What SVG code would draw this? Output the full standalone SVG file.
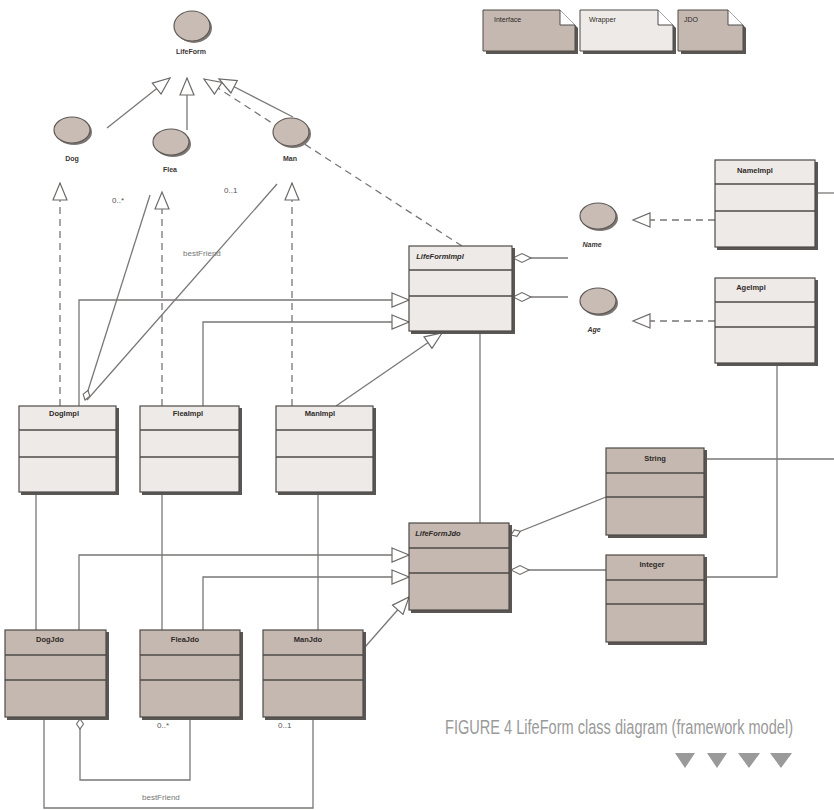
<svg xmlns="http://www.w3.org/2000/svg" width="834" height="810" viewBox="0 0 834 810">
  <style>
    .bg { fill: #ffffff; }
    .conn { fill: none; stroke: #7a7776; stroke-width: 1.3; }
    .dash { stroke-dasharray: 7 5; }
    .iface { fill: #c8bcb4; stroke: #5e5a58; stroke-width: 1.2; }
    .ishadow { fill: #7d7672; }
    .lbl { font-family: "Liberation Sans", Arial, sans-serif; font-size: 7px; font-weight: bold; fill: #3a3634; text-anchor: middle; }
    .ital { font-style: italic; }
    .box-w { fill: #eeeae7; stroke: #4e4a48; stroke-width: 1.2; }
    .box-j { fill: #c4b8b0; stroke: #4e4a48; stroke-width: 1.2; }
    .shadow { fill: #5a5654; }
    .sep { stroke: #4e4a48; stroke-width: 1.4; }
    .title { font-family: "Liberation Sans", Arial, sans-serif; font-size: 7.5px; font-weight: bold; fill: #2e2a28; text-anchor: middle; }
    .note { font-family: "Liberation Sans", Arial, sans-serif; font-size: 7px; fill: #2e2a28; }
    .mult { font-family: "Liberation Sans", Arial, sans-serif; font-size: 8px; fill: #555; }
    .role { font-family: "Liberation Sans", Arial, sans-serif; font-size: 8px; fill: #777; }
    .cap { font-family: "Liberation Sans", Arial, sans-serif; font-size: 15px; fill: #9a9a9a; }
    .tri { fill: #9a9a9a; }
  </style>
  <defs>
    <marker id="gen" markerUnits="userSpaceOnUse" markerWidth="20" markerHeight="16" viewBox="0 0 20 16" refX="18" refY="8" orient="auto">
      <path d="M1,1 L18,8 L1,15 Z" fill="#ffffff" stroke="#6e6a68" stroke-width="1.2"/>
    </marker>
    <marker id="agg" markerUnits="userSpaceOnUse" markerWidth="22" markerHeight="12" viewBox="0 0 22 12" refX="1" refY="6" orient="auto">
      <path d="M1,6 L10,1.5 L19,6 L10,10.5 Z" fill="#ffffff" stroke="#6e6a68" stroke-width="1.1"/>
    </marker>
    <marker id="aggs" markerUnits="userSpaceOnUse" markerWidth="14" markerHeight="10" viewBox="0 0 14 10" refX="1" refY="5" orient="auto">
      <path d="M1,5 L6,1.5 L11,5 L6,8.5 Z" fill="#ffffff" stroke="#6e6a68" stroke-width="1.1"/>
    </marker>
  </defs>

  <rect class="bg" x="0" y="0" width="834" height="810"/>

  <!-- connectors -->
  <g id="connectors">
    <!-- generalisation to LifeForm -->
    <line class="conn" x1="107" y1="128" x2="170" y2="78" marker-end="url(#gen)"/>
    <line class="conn" x1="187" y1="130" x2="187" y2="78" marker-end="url(#gen)"/>
    <line class="conn" x1="293" y1="117" x2="219" y2="79" marker-end="url(#gen)"/>
    <line class="conn dash" x1="462" y1="246" x2="204" y2="79" marker-end="url(#gen)"/>
    <!-- realisation of Dog / Flea / Man -->
    <line class="conn dash" x1="60" y1="406" x2="60" y2="183" marker-end="url(#gen)"/>
    <line class="conn dash" x1="162" y1="406" x2="162" y2="192" marker-end="url(#gen)"/>
    <line class="conn dash" x1="292" y1="406" x2="292" y2="183" marker-end="url(#gen)"/>
    <!-- DogImpl associations -->
    <line class="conn" x1="85" y1="400" x2="150" y2="195" marker-start="url(#aggs)"/>
    <line class="conn" x1="87" y1="400" x2="277" y2="184"/>
    <!-- Impl classes extend LifeFormImpl -->
    <path class="conn" d="M79,406 V300 H409" marker-end="url(#gen)"/>
    <path class="conn" d="M203,406 V322 H409" marker-end="url(#gen)"/>
    <line class="conn" x1="336" y1="406" x2="442" y2="333" marker-end="url(#gen)"/>
    <!-- LifeFormImpl aggregates Name and Age -->
    <line class="conn" x1="513" y1="258" x2="568" y2="258" marker-start="url(#agg)"/>
    <line class="conn" x1="513" y1="297" x2="568" y2="297" marker-start="url(#agg)"/>
    <!-- NameImpl / AgeImpl realise Name / Age -->
    <line class="conn dash" x1="715" y1="220" x2="633" y2="220" marker-end="url(#gen)"/>
    <line class="conn dash" x1="715" y1="321" x2="633" y2="321" marker-end="url(#gen)"/>
    <line class="conn" x1="817" y1="193" x2="834" y2="193"/>
    <path class="conn" d="M777,364 V577 H706"/>
    <line class="conn" x1="706" y1="459" x2="834" y2="459"/>
    <!-- LifeFormImpl to LifeFormJdo -->
    <line class="conn" x1="480" y1="333" x2="480" y2="523"/>
    <!-- LifeFormJdo aggregates String and Integer -->
    <line class="conn" x1="511" y1="535" x2="606" y2="497" marker-start="url(#aggs)"/>
    <line class="conn" x1="511" y1="570" x2="606" y2="570" marker-start="url(#agg)"/>
    <!-- Impl to Jdo -->
    <line class="conn" x1="36" y1="493" x2="36" y2="630"/>
    <line class="conn" x1="162" y1="493" x2="162" y2="630"/>
    <line class="conn" x1="318" y1="493" x2="318" y2="630"/>
    <!-- Jdo classes extend LifeFormJdo -->
    <path class="conn" d="M79,630 V555 H409" marker-end="url(#gen)"/>
    <path class="conn" d="M203,630 V577 H409" marker-end="url(#gen)"/>
    <line class="conn" x1="365" y1="647" x2="409" y2="597" marker-end="url(#gen)"/>
    <!-- DogJdo associations -->
    <path class="conn" d="M80,719 V780 H190 V718" marker-start="url(#aggs)"/>
    <path class="conn" d="M44,718 V808 H313 V718"/>
  </g>

  <!-- association labels -->
  <text class="mult" x="112" y="203">0..*</text>
  <text class="mult" x="224" y="193">0..1</text>
  <text class="role" x="183" y="256">bestFriend</text>
  <text class="mult" x="157" y="728">0..*</text>
  <text class="mult" x="278" y="728">0..1</text>
  <text class="role" x="142" y="800">bestFriend</text>

  <!-- legend -->
  <g id="legend-interface">
    <path class="shadow" d="M486,13 H563 L578,28 V54 H486 Z"/>
    <path d="M483,10 H560 L575,25 V51 H483 Z" fill="#c4b8b0" stroke="#4e4a48" stroke-width="1"/>
    <path d="M560,10 V25 H575" fill="#ffffff" stroke="#4e4a48" stroke-width="1"/>
    <text class="note" x="494" y="22">Interface</text>
  </g>
  <g id="legend-wrapper">
    <path class="shadow" d="M583,13 H661 L676,28 V54 H583 Z"/>
    <path d="M580,10 H658 L673,25 V51 H580 Z" fill="#eeeae7" stroke="#4e4a48" stroke-width="1"/>
    <path d="M658,10 V25 H673" fill="#ffffff" stroke="#4e4a48" stroke-width="1"/>
    <text class="note" x="589" y="22">Wrapper</text>
  </g>
  <g id="legend-jdo">
    <path class="shadow" d="M681,13 H731 L746,28 V54 H681 Z"/>
    <path d="M678,10 H728 L743,25 V51 H678 Z" fill="#c4b8b0" stroke="#4e4a48" stroke-width="1"/>
    <path d="M728,10 V25 H743" fill="#ffffff" stroke="#4e4a48" stroke-width="1"/>
    <text class="note" x="684" y="22">JDO</text>
  </g>

  <!-- interfaces -->
  <g id="LifeForm">
    <ellipse class="ishadow" cx="194" cy="28" rx="18" ry="15"/>
    <ellipse class="iface" cx="192" cy="26" rx="18" ry="15"/>
    <text class="lbl" x="191" y="54">LifeForm</text>
  </g>
  <g id="Dog">
    <ellipse class="ishadow" cx="74" cy="132" rx="18" ry="13"/>
    <ellipse class="iface" cx="72" cy="130" rx="18" ry="13"/>
    <text class="lbl" x="72" y="161">Dog</text>
  </g>
  <g id="Flea">
    <ellipse class="ishadow" cx="173" cy="144" rx="18" ry="13"/>
    <ellipse class="iface" cx="171" cy="142" rx="18" ry="13"/>
    <text class="lbl" x="170" y="172">Flea</text>
  </g>
  <g id="Man">
    <ellipse class="ishadow" cx="293" cy="134" rx="18" ry="14"/>
    <ellipse class="iface" cx="291" cy="132" rx="18" ry="14"/>
    <text class="lbl" x="290" y="161">Man</text>
  </g>
  <g id="Name">
    <ellipse class="ishadow" cx="600" cy="218" rx="18" ry="13"/>
    <ellipse class="iface" cx="598" cy="216" rx="18" ry="13"/>
    <text class="lbl ital" x="592" y="247">Name</text>
  </g>
  <g id="Age">
    <ellipse class="ishadow" cx="600" cy="303" rx="18" ry="13"/>
    <ellipse class="iface" cx="598" cy="301" rx="18" ry="13"/>
    <text class="lbl ital" x="594" y="332">Age</text>
  </g>

  <!-- wrapper classes -->
  <g id="LifeFormImpl">
    <rect class="shadow" x="411" y="248" width="104" height="86"/>
    <rect class="box-w" x="409" y="246" width="103" height="85"/>
    <line class="sep" x1="409" y1="270" x2="512" y2="270"/>
    <line class="sep" x1="409" y1="296" x2="512" y2="296"/>
    <text class="title ital" x="440" y="259">LifeFormImpl</text>
  </g>
  <g id="NameImpl">
    <rect class="shadow" x="717" y="162" width="101" height="88"/>
    <rect class="box-w" x="715" y="160" width="100" height="87"/>
    <line class="sep" x1="715" y1="184" x2="815" y2="184"/>
    <line class="sep" x1="715" y1="211" x2="815" y2="211"/>
    <text class="title" x="755" y="173">NameImpl</text>
  </g>
  <g id="AgeImpl">
    <rect class="shadow" x="717" y="280" width="101" height="86"/>
    <rect class="box-w" x="715" y="278" width="100" height="85"/>
    <line class="sep" x1="715" y1="302" x2="815" y2="302"/>
    <line class="sep" x1="715" y1="327" x2="815" y2="327"/>
    <text class="title" x="751" y="290">AgeImpl</text>
  </g>
  <g id="DogImpl">
    <rect class="shadow" x="21" y="408" width="98" height="87"/>
    <rect class="box-w" x="19" y="406" width="97" height="86"/>
    <line class="sep" x1="19" y1="430" x2="116" y2="430"/>
    <line class="sep" x1="19" y1="457" x2="116" y2="457"/>
    <text class="title" x="64" y="416">DogImpl</text>
  </g>
  <g id="FleaImpl">
    <rect class="shadow" x="142" y="408" width="100" height="87"/>
    <rect class="box-w" x="140" y="406" width="99" height="86"/>
    <line class="sep" x1="140" y1="430" x2="239" y2="430"/>
    <line class="sep" x1="140" y1="457" x2="239" y2="457"/>
    <text class="title" x="188" y="416">FleaImpl</text>
  </g>
  <g id="ManImpl">
    <rect class="shadow" x="278" y="408" width="98" height="87"/>
    <rect class="box-w" x="276" y="406" width="97" height="86"/>
    <line class="sep" x1="276" y1="430" x2="373" y2="430"/>
    <line class="sep" x1="276" y1="457" x2="373" y2="457"/>
    <text class="title" x="320" y="416">ManImpl</text>
  </g>

  <!-- JDO classes -->
  <g id="LifeFormJdo">
    <rect class="shadow" x="411" y="525" width="101" height="88"/>
    <rect class="box-j" x="409" y="523" width="100" height="87"/>
    <line class="sep" x1="409" y1="548" x2="509" y2="548"/>
    <line class="sep" x1="409" y1="573" x2="509" y2="573"/>
    <text class="title ital" x="438" y="536">LifeFormJdo</text>
  </g>
  <g id="String">
    <rect class="shadow" x="608" y="450" width="99" height="88"/>
    <rect class="box-j" x="606" y="448" width="98" height="87"/>
    <line class="sep" x1="606" y1="473" x2="704" y2="473"/>
    <line class="sep" x1="606" y1="497" x2="704" y2="497"/>
    <text class="title" x="655" y="461">String</text>
  </g>
  <g id="Integer">
    <rect class="shadow" x="608" y="557" width="99" height="88"/>
    <rect class="box-j" x="606" y="555" width="98" height="87"/>
    <line class="sep" x1="606" y1="580" x2="704" y2="580"/>
    <line class="sep" x1="606" y1="604" x2="704" y2="604"/>
    <text class="title" x="652" y="567">Integer</text>
  </g>
  <g id="DogJdo">
    <rect class="shadow" x="7" y="632" width="102" height="88"/>
    <rect class="box-j" x="5" y="630" width="101" height="87"/>
    <line class="sep" x1="5" y1="655" x2="106" y2="655"/>
    <line class="sep" x1="5" y1="680" x2="106" y2="680"/>
    <text class="title" x="50" y="642">DogJdo</text>
  </g>
  <g id="FleaJdo">
    <rect class="shadow" x="142" y="632" width="101" height="88"/>
    <rect class="box-j" x="140" y="630" width="100" height="87"/>
    <line class="sep" x1="140" y1="655" x2="240" y2="655"/>
    <line class="sep" x1="140" y1="680" x2="240" y2="680"/>
    <text class="title" x="185" y="642">FleaJdo</text>
  </g>
  <g id="ManJdo">
    <rect class="shadow" x="265" y="632" width="101" height="88"/>
    <rect class="box-j" x="263" y="630" width="100" height="87"/>
    <line class="sep" x1="263" y1="655" x2="363" y2="655"/>
    <line class="sep" x1="263" y1="680" x2="363" y2="680"/>
    <text class="title" x="308" y="642">ManJdo</text>
  </g>

  <!-- caption: narrow tall lettering -->
  <text class="cap" transform="translate(445,734) scale(1,1.3)" x="0" y="0" textLength="348" lengthAdjust="spacingAndGlyphs">FIGURE 4 LifeForm class diagram (framework model)</text>
  <path class="tri" d="M675,753 H695 L685,768 Z"/>
  <path class="tri" d="M707,753 H727 L717,768 Z"/>
  <path class="tri" d="M738,753 H760 L749,768 Z"/>
  <path class="tri" d="M770,753 H792 L781,768 Z"/>
</svg>
